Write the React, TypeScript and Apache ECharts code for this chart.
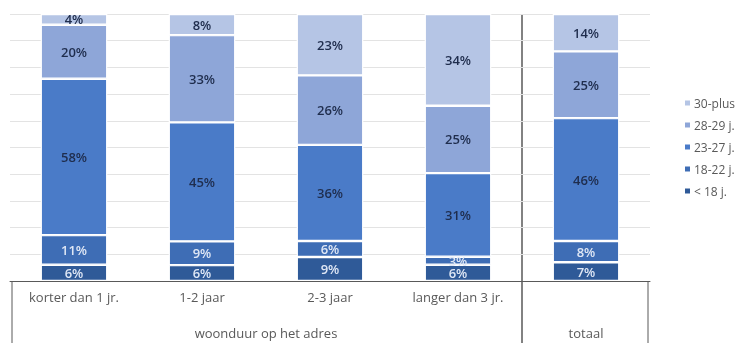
import React, { useEffect, useRef } from "react";
import * as echarts from "echarts";

const categories = ["korter dan 1 jr.", "1-2 jaar", "2-3 jaar", "langer dan 3 jr.", ""];
const groupLabels = ["woonduur op het adres", "totaal"];
const seriesNames = ["< 18 j.", "18-22 j.", "23-27 j.", "28-29 j.", "30-plus"];
const lt18 = [6, 6, 9, 6, 7];
const a18_22 = [11, 9, 6, 3, 8];
const a23_27 = [58, 45, 36, 31, 46];
const a28_29 = [20, 33, 26, 25, 25];
const p30 = [4, 8, 23, 34, 14];
const colors = ["#2f5a98", "#3e6db5", "#4a7bc8", "#8ea6d8", "#b5c5e5"];
const labelColors = ["#dfe7f5", "#dfe7f5", "#1f2d4d", "#1f2d4d", "#1f2d4d"];

const W = 743;
const H = 343;
const gridLeft = 10;
const gridRight = 93;
const gridTop = 14;
const gridBottom = 62;

export default function App() {
  const ref = useRef<HTMLDivElement>(null);
  useEffect(() => {
    if (!ref.current) return;
    const chart = echarts.init(ref.current, null, { renderer: "svg" });
    const all = [lt18, a18_22, a23_27, a28_29, p30];
    const totals = categories.map((_, i) => all.reduce((s, arr) => s + arr[i], 0));
    const font = "'Open Sans', 'Noto Sans', sans-serif";
    const gw = W - gridLeft - gridRight;
    const catW = gw / categories.length;
    const axisY = H - gridBottom;
    const series = all.map((arr, k) => ({
      name: seriesNames[k],
      type: "bar",
      stack: "total",
      barCategoryGap: "48%",
      itemStyle: { color: colors[k], borderColor: "#ffffff", borderWidth: 1.2 },
      label: {
        show: true,
        position: "inside",
        color: labelColors[k],
        fontSize: 13,
        fontWeight: 600,
        fontFamily: font,
        formatter: (p: any) => p.data.raw + "%",
      },
      data: arr.map((v, i) => ({ value: (v / totals[i]) * 100, raw: v })),
    }));
    chart.setOption({
      animation: false,
      grid: { left: gridLeft, right: gridRight, top: gridTop, bottom: gridBottom, containLabel: false },
      legend: {
        orient: "vertical",
        left: 678,
        top: 92,
        itemGap: 10,
        itemWidth: 7,
        itemHeight: 7,
        icon: "rect",
        data: [...seriesNames].reverse(),
        textStyle: { color: "#595959", fontSize: 12, fontFamily: font, padding: [0, 0, 0, -2] },
      },
      xAxis: {
        type: "category",
        data: categories,
        axisTick: { show: false },
        axisLine: { show: true, lineStyle: { color: "#595959", width: 1 } },
        axisLabel: { color: "#595959", fontSize: 13, fontFamily: font, margin: 9, interval: 0 },
      },
      yAxis: {
        type: "value",
        min: 0,
        max: 100,
        interval: 10,
        axisLabel: { show: false },
        axisLine: { show: false },
        axisTick: { show: false },
        splitLine: { show: true, lineStyle: { color: "#e3e3e3", width: 1 } },
      },
      graphic: [
        { type: "line", shape: { x1: gridLeft + 4 * catW, y1: gridTop, x2: gridLeft + 4 * catW, y2: H }, style: { stroke: "#595959", lineWidth: 1.5 } },
        { type: "line", shape: { x1: gridLeft + 2, y1: axisY, x2: gridLeft + 2, y2: H }, style: { stroke: "#595959", lineWidth: 1 } },
        { type: "line", shape: { x1: gridLeft + gw - 2, y1: axisY, x2: gridLeft + gw - 2, y2: H }, style: { stroke: "#595959", lineWidth: 1 } },
        { type: "text", x: gridLeft + 2 * catW, y: 333, style: { text: groupLabels[0], fill: "#595959", fontSize: 13, fontFamily: font, align: "center", verticalAlign: "middle" } },
        { type: "text", x: gridLeft + 4.5 * catW, y: 333, style: { text: groupLabels[1], fill: "#595959", fontSize: 13, fontFamily: font, align: "center", verticalAlign: "middle" } },
      ],
      series,
    });
    return () => chart.dispose();
  }, []);
  return <div ref={ref} style={{ position: "fixed", left: 0, top: 0, width: W, height: H }} />;
}
